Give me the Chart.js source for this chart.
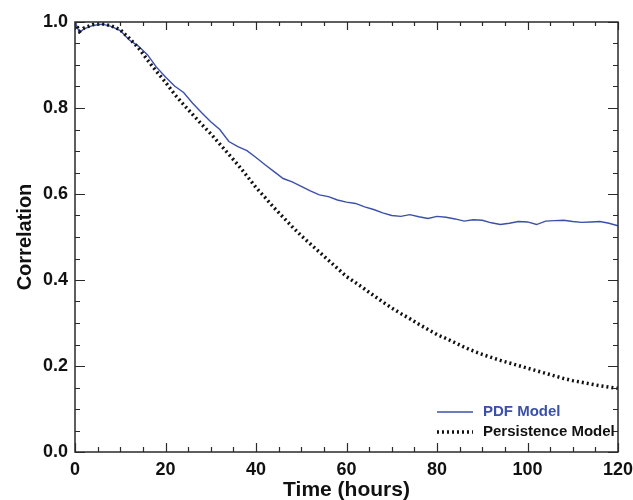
<!DOCTYPE html>
<html>
<head>
<meta charset="utf-8">
<script src="https://cdn.jsdelivr.net/npm/chart.js@4/dist/chart.umd.min.js"></script>
<style>
  html, body { margin: 0; padding: 0; background: #fff; }
  #wrap { width: 633px; height: 500px; position: relative; }
</style>
</head>
<body>
<div id="wrap"><canvas id="c" width="633" height="500"></canvas></div>
<script>
// ---- Data ----
const hours = [0,1,2,4,6,8,10,12,14,16,18,20,22,24,26,28,30,32,34,36,38,40,42,44,46,48,50,52,54,56,58,60,62,64,66,68,70,72,74,76,78,80,82,84,86,88,90,92,94,96,98,100,102,104,106,108,110,112,114,116,118,120];
const pdfModel = [1.000,0.976,0.984,0.992,0.995,0.990,0.980,0.958,0.944,0.924,0.895,0.872,0.851,0.836,0.811,0.789,0.768,0.750,0.722,0.710,0.701,0.685,0.668,0.652,0.636,0.628,0.618,0.607,0.598,0.594,0.586,0.581,0.578,0.570,0.564,0.556,0.550,0.548,0.552,0.547,0.543,0.548,0.546,0.542,0.537,0.540,0.539,0.533,0.529,0.532,0.536,0.535,0.529,0.537,0.538,0.539,0.536,0.534,0.535,0.536,0.532,0.526];
const persistenceModel = [1.000,0.978,0.986,0.994,0.996,0.991,0.982,0.962,0.940,0.912,0.885,0.860,0.832,0.808,0.785,0.762,0.740,0.716,0.692,0.668,0.642,0.615,0.592,0.568,0.546,0.524,0.503,0.484,0.465,0.446,0.427,0.408,0.394,0.379,0.364,0.349,0.335,0.322,0.310,0.297,0.285,0.273,0.264,0.254,0.244,0.235,0.227,0.220,0.213,0.207,0.201,0.195,0.189,0.183,0.177,0.171,0.166,0.162,0.158,0.154,0.151,0.148];
const xTickLabels = [0,20,40,60,80,100,120];
const yTickLabels = [0.0,0.2,0.4,0.6,0.8,1.0];
const seriesNames = ["PDF Model","Persistence Model"];

const BLUE = '#3b50a8';
const FONT = '"Liberation Sans", Arial, Helvetica, sans-serif';

const toPts = (xs, ys) => xs.map((x, i) => ({ x: x, y: ys[i] }));

// Frame, inward ticks on all sides, and legend
const framePlugin = {
  id: 'frame',
  afterDraw(chart) {
    const ctx = chart.ctx;
    const a = chart.chartArea;
    const xs = chart.scales.x, ys = chart.scales.y;
    ctx.save();
    ctx.strokeStyle = '#2a2a2a';
    ctx.lineWidth = 1.5;
    ctx.strokeRect(a.left, a.top, a.right - a.left, a.bottom - a.top);
    ctx.lineWidth = 1.2;
    ctx.beginPath();
    // x ticks (minor every 5, major every 20)
    for (let v = 0; v <= 120; v += 5) {
      const px = Math.round(xs.getPixelForValue(v)) + 0.5;
      const major = xTickLabels.includes(v);
      const lb = major ? 9 : 5, lt = major ? 8 : 4;
      ctx.moveTo(px, a.bottom); ctx.lineTo(px, a.bottom - lb);
      ctx.moveTo(px, a.top); ctx.lineTo(px, a.top + lt);
    }
    // y ticks (minor every 0.05, major every 0.2)
    for (let k = 0; k <= 20; k++) {
      const v = k * 0.05;
      const py = Math.round(ys.getPixelForValue(v)) + 0.5;
      const major = k % 4 === 0;
      const l = major ? 10 : 5;
      ctx.moveTo(a.left, py); ctx.lineTo(a.left + l, py);
      ctx.moveTo(a.right, py); ctx.lineTo(a.right - l, py);
    }
    ctx.stroke();

    // Legend
    const lx0 = a.right - 181, lx1 = a.right - 145, tx = a.right - 135;
    const r1 = a.bottom - 40, r2 = a.bottom - 20;
    ctx.lineWidth = 1.5;
    ctx.strokeStyle = BLUE;
    ctx.setLineDash([]);
    ctx.beginPath(); ctx.moveTo(lx0, r1); ctx.lineTo(lx1, r1); ctx.stroke();
    ctx.strokeStyle = '#111';
    ctx.lineWidth = 3.5;
    ctx.setLineDash([2, 3]);
    ctx.beginPath(); ctx.moveTo(lx0, r2); ctx.lineTo(lx1, r2); ctx.stroke();
    ctx.setLineDash([]);
    ctx.font = 'bold 15px ' + FONT;
    ctx.textBaseline = 'middle';
    ctx.textAlign = 'left';
    ctx.fillStyle = BLUE;
    ctx.fillText(seriesNames[0], tx, r1);
    ctx.fillStyle = '#111';
    ctx.fillText(seriesNames[1], tx, r2);
    ctx.restore();
  }
};

new Chart(document.getElementById('c'), {
  type: 'line',
  data: {
    datasets: [
      {
        label: seriesNames[1],
        data: toPts(hours, persistenceModel),
        borderColor: '#111',
        borderWidth: 3.5,
        borderDash: [2, 3],
        pointRadius: 0,
        tension: 0,
        fill: false
      },
      {
        label: seriesNames[0],
        data: toPts(hours, pdfModel),
        borderColor: BLUE,
        borderWidth: 1.4,
        pointRadius: 0,
        tension: 0,
        fill: false
      }
    ]
  },
  options: {
    responsive: false,
    animation: false,
    devicePixelRatio: 1,
    layout: { padding: { left: 0, right: 15, top: 22, bottom: 0 } },
    plugins: { legend: { display: false }, tooltip: { enabled: false } },
    scales: {
      x: {
        type: 'linear',
        min: 0, max: 120,
        afterFit(s) { s.height = 48; s.paddingRight = 0; s.paddingLeft = 0; },
        afterBuildTicks(s) { s.ticks = xTickLabels.map(v => ({ value: v })); },
        grid: { display: false, drawTicks: false },
        border: { display: false },
        ticks: {
          padding: 7,
          color: '#111',
          font: { family: FONT, size: 18, weight: 'bold' },
          maxRotation: 0,
          callback: v => String(v)
        },
        title: {
          display: true,
          text: 'Time (hours)',
          color: '#111',
          font: { family: FONT, size: 21, weight: 'bold' },
          padding: { top: 0, bottom: -3 }
        }
      },
      y: {
        type: 'linear',
        min: 0, max: 1,
        afterFit(s) { s.width = 75; s.paddingTop = 0; s.paddingBottom = 0; },
        afterBuildTicks(s) { s.ticks = yTickLabels.map(v => ({ value: v })); },
        grid: { display: false, drawTicks: false },
        border: { display: false },
        ticks: {
          padding: 7,
          color: '#111',
          font: { family: FONT, size: 18, weight: 'bold' },
          callback: v => Number(v).toFixed(1)
        },
        title: {
          display: true,
          text: 'Correlation',
          color: '#111',
          font: { family: FONT, size: 20, weight: 'bold' },
          padding: { top: 13, bottom: 0 }
        }
      }
    }
  },
  plugins: [framePlugin]
});
</script>
</body>
</html>
